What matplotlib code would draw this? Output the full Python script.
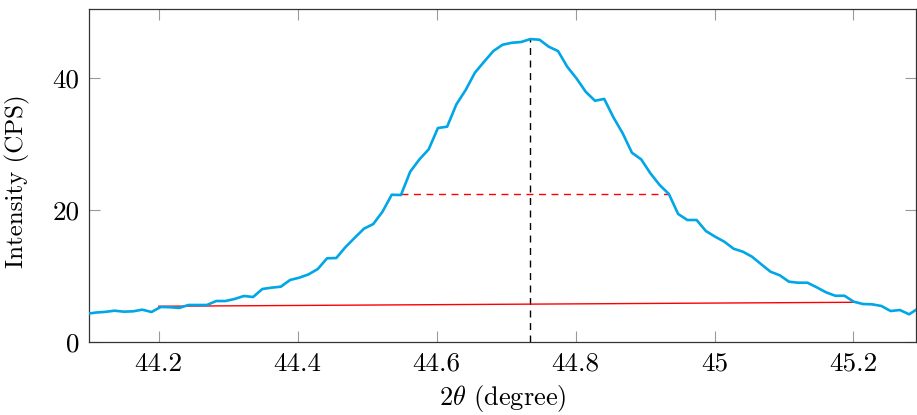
import matplotlib
matplotlib.use("Agg")
import matplotlib.pyplot as plt

plt.rcParams['font.family'] = ['cmr10', 'DejaVu Serif']
plt.rcParams['mathtext.fontset'] = 'cm'
plt.rcParams['axes.formatter.use_mathtext'] = True

two_theta = [
    44.0964, 44.1097, 44.1230, 44.1363, 44.1496, 44.1629, 44.1762, 44.1895,
    44.2028, 44.2161, 44.2294, 44.2427, 44.2560, 44.2693, 44.2826, 44.2959,
    44.3092, 44.3225, 44.3358, 44.3491, 44.3624, 44.3757, 44.3890, 44.4023,
    44.4156, 44.4289, 44.4422, 44.4555, 44.4688, 44.4821, 44.4954, 44.5087,
    44.5220, 44.5353, 44.5486, 44.5619, 44.5752, 44.5885, 44.6018, 44.6151,
    44.6284, 44.6417, 44.6550, 44.6683, 44.6816, 44.6949, 44.7082, 44.7215,
    44.7348, 44.7481, 44.7614, 44.7747, 44.7880, 44.8013, 44.8146, 44.8279,
    44.8412, 44.8545, 44.8678, 44.8811, 44.8944, 44.9077, 44.9210, 44.9343,
    44.9476, 44.9609, 44.9742, 44.9875, 45.0008, 45.0141, 45.0274, 45.0407,
    45.0540, 45.0673, 45.0806, 45.0939, 45.1072, 45.1205, 45.1338, 45.1471,
    45.1604, 45.1737, 45.1870, 45.2003, 45.2136, 45.2269, 45.2402, 45.2535,
    45.2668, 45.2801, 45.2934,
]
intensity = [
    4.30, 4.50, 4.60, 4.78, 4.63, 4.68, 4.93, 4.58,
    5.34, 5.30, 5.19, 5.64, 5.64, 5.64, 6.24, 6.24,
    6.55, 7.00, 6.85, 8.06, 8.26, 8.41, 9.42, 9.77,
    10.27, 11.08, 12.70, 12.74, 14.40, 15.81, 17.18, 17.88,
    19.74, 22.31, 22.27, 25.79, 27.66, 29.17, 32.40, 32.60,
    35.98, 38.14, 40.76, 42.42, 44.04, 44.99, 45.29, 45.40,
    45.85, 45.75, 44.69, 44.04, 41.66, 39.90, 37.88, 36.52,
    36.80, 34.00, 31.60, 28.66, 27.66, 25.55, 23.78, 22.42,
    19.40, 18.49, 18.49, 16.83, 15.97, 15.21, 14.15, 13.70,
    12.94, 11.79, 10.67, 10.13, 9.16, 9.01, 9.01, 8.31,
    7.56, 7.04, 7.04, 6.14, 5.79, 5.74, 5.49, 4.73,
    4.88, 4.23, 5.14,
]

peak_x = 44.7348
peak_y = 45.85
half_x = [44.5486, 44.9343]
half_y = 22.35
base_x = [44.2, 45.2]
base_y = [5.45, 6.05]

xticks = [44.2, 44.4, 44.6, 44.8, 45.0, 45.2]
xticklabels = ['44.2', '44.4', '44.6', '44.8', '45', '45.2']
yticks = [0, 20, 40]

fig = plt.figure(figsize=(9.17, 4.15), dpi=100)
ax = fig.add_axes([0.0974, 0.1752, 0.9015, 0.8024])

ax.plot(two_theta, intensity, color='#00a6e6', lw=1.9, zorder=3)
ax.plot([peak_x, peak_x], [0, peak_y], color='black', lw=1.0,
        dashes=(5, 4), zorder=2)
ax.plot(half_x, [half_y, half_y], color='#ff0000', lw=1.0,
        dashes=(5, 4), zorder=2)
ax.plot(base_x, base_y, color='#ff0000', lw=1.0, zorder=2)

ax.set_xlim(44.1, 45.29)
ax.set_ylim(0, 50.35)
ax.set_xticks(xticks)
ax.set_xticklabels(xticklabels)
ax.set_yticks(yticks)
ax.set_yticklabels([str(v) for v in yticks])

ax.tick_params(axis='both', which='both', direction='in', length=8,
               width=0.8, color='#999999', labelsize=19.5,
               top=True, right=True, pad=7)
for s in ax.spines.values():
    s.set_color('#333333')
    s.set_linewidth(0.9)

ax.set_xlabel(r'2$\theta$ (degree)', fontsize=19, labelpad=5)
ax.set_ylabel('Intensity (CPS)', fontsize=18)
ax.yaxis.set_label_coords(-0.072, 0.485)

fig.savefig('out.png', dpi=100)
